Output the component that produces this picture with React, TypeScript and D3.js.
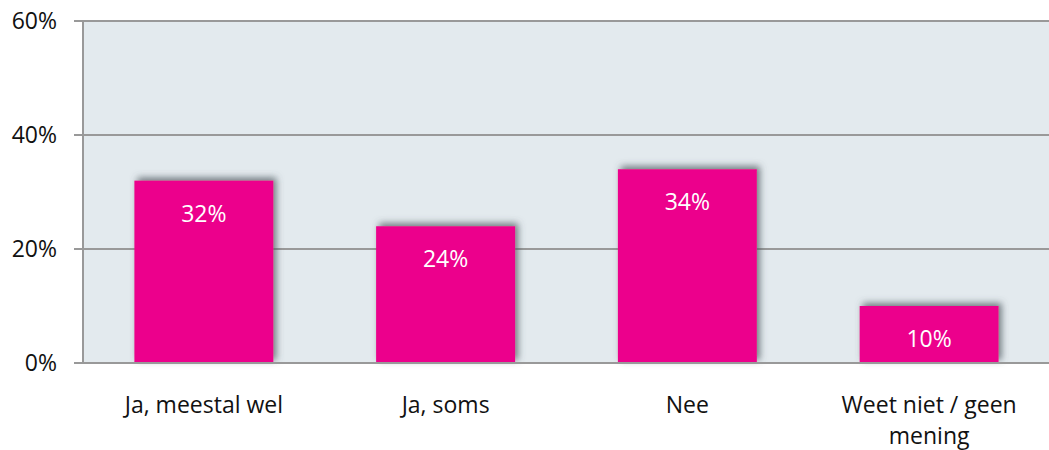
import { useMemo } from "react"
import * as d3 from "d3"

const categories = ["Ja, meestal wel", "Ja, soms", "Nee", "Weet niet / geen mening"]
const values = [32, 24, 34, 10]
const yTicks = [0, 20, 40, 60]

const width = 1049
const height = 450
const margin = { top: 21, right: -1, bottom: 87, left: 83 }

function wrap(label: string, maxChars: number) {
    if (label.length <= maxChars) return [label]
    const cut = label.lastIndexOf(" ", maxChars)
    return [label.slice(0, cut), label.slice(cut + 1)]
}

export default function App() {
    const x = useMemo(
        () =>
            d3
                .scaleBand()
                .domain(categories)
                .range([margin.left, width - margin.right])
                .paddingInner(0.425)
                .paddingOuter(0.2125),
        []
    )
    const y = useMemo(
        () => d3.scaleLinear().domain([0, 60]).range([height - margin.bottom, margin.top]),
        []
    )

    const font = "'Open Sans', sans-serif"
    const fs = 23

    return (
        <svg
            width={width}
            height={height}
            style={{ position: "absolute", left: 0, top: 0, display: "block" }}
        >
            <defs>
                <filter id="barShadow" x="-20%" y="-20%" width="140%" height="140%">
                    <feDropShadow dx="3" dy="-3" stdDeviation="3.5" floodColor="#4a545c" floodOpacity="0.75" />
                </filter>
            </defs>

            {/* plot area */}
            <rect
                x={margin.left}
                y={margin.top}
                width={width - margin.right - margin.left}
                height={y(0) - margin.top}
                fill="#e3eaee"
            />

            {/* grid + y axis */}
            {yTicks.map((t) => (
                <g key={t}>
                    <line
                        x1={74}
                        x2={width}
                        y1={y(t)}
                        y2={y(t)}
                        stroke="#999999"
                        strokeWidth={2}
                    />
                    <text
                        x={57}
                        y={y(t)}
                        dy="0.36em"
                        textAnchor="end"
                        fontSize={fs}
                        fontFamily={font}
                        fill="#111"
                    >
                        {t}%
                    </text>
                </g>
            ))}
            <line x1={margin.left} x2={margin.left} y1={margin.top} y2={y(0)} stroke="#999999" strokeWidth={2} />

            {/* bars */}
            {categories.map((c, i) => (
                <g key={c}>
                    <rect
                        x={x(c)}
                        y={y(values[i])}
                        width={x.bandwidth()}
                        height={y(0) - y(values[i])}
                        fill="#ec008c"
                        filter="url(#barShadow)"
                    />
                    <text
                        x={(x(c) ?? 0) + x.bandwidth() / 2}
                        y={y(values[i]) + 41}
                        textAnchor="middle"
                        fontSize={fs}
                        fontFamily={font}
                        fill="#ffffff"
                    >
                        {values[i]}%
                    </text>
                </g>
            ))}
            {/* redraw baseline over shadows */}
            <line x1={74} x2={width} y1={y(0)} y2={y(0)} stroke="#999999" strokeWidth={2} />

            {/* category labels */}
            {categories.map((c) => (
                <text
                    key={c}
                    x={(x(c) ?? 0) + x.bandwidth() / 2}
                    y={413}
                    textAnchor="middle"
                    fontSize={fs}
                    fontFamily={font}
                    fill="#111"
                >
                    {wrap(c, 16).map((line, j) => (
                        <tspan key={j} x={(x(c) ?? 0) + x.bandwidth() / 2} dy={j === 0 ? 0 : 31}>
                            {line}
                        </tspan>
                    ))}
                </text>
            ))}
        </svg>
    )
}
